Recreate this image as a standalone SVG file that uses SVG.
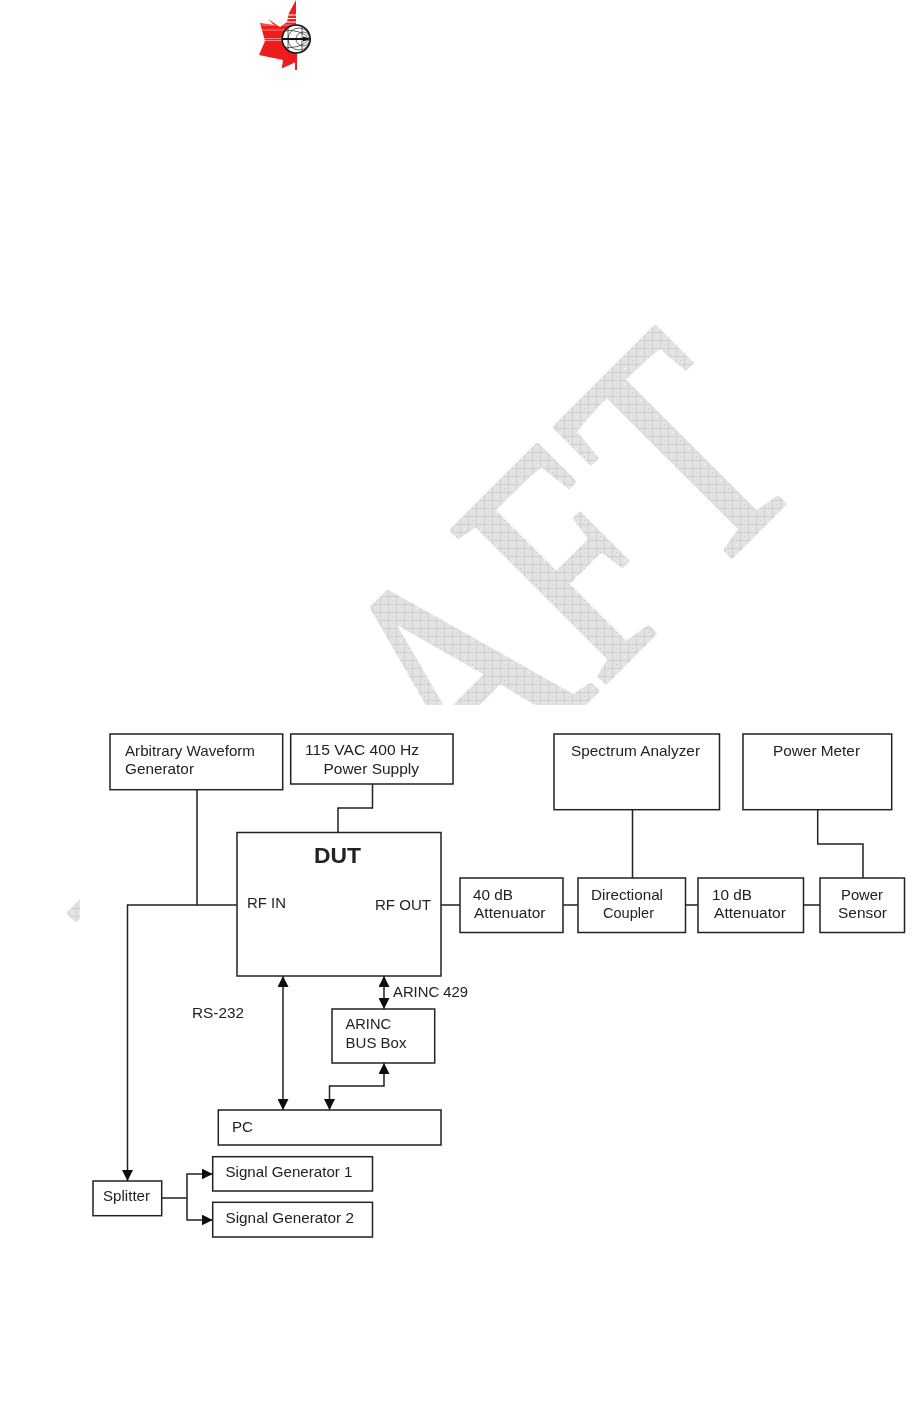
<svg xmlns="http://www.w3.org/2000/svg" width="921" height="1406" viewBox="0 0 921 1406">
<style>
.b{fill:#fff;stroke:#222;stroke-width:1.5}
.c{fill:none;stroke:#222;stroke-width:1.5}
.t{font-family:"Liberation Sans",Arial,sans-serif;font-size:14.6px;fill:#222}
.wm{font-family:"Liberation Serif","Times New Roman",serif;font-size:330px;fill:url(#hatch);stroke:url(#hatch);stroke-width:4.500;stroke-linejoin:round;font-kerning:none}
.ls{fill:none;stroke:#fff;stroke-width:1}
.lp{fill:none;stroke:#f8a0a0;stroke-width:.8}
.sm{fill:none;stroke:#222;stroke-width:.7}
</style>
<defs>
<pattern id="hatch" width="16" height="16" patternUnits="userSpaceOnUse" patternTransform="scale(1.3333,1) rotate(45)">
<rect width="16" height="16" fill="#e3e3e3"/>
<path d="M0 .5H16M0 8.500H16M.5 0V16M8.500 0V16" stroke="#d0d0d0" stroke-width="1" fill="none"/>
<rect x="4" y="4" width="1" height="1" fill="#c4c4c4"/>
<rect x="12" y="12" width="1" height="1" fill="#f4f4f4"/>
</pattern>
<marker id="ah" viewBox="0 0 10 10" refX="10" refY="5" markerWidth="11" markerHeight="11" markerUnits="userSpaceOnUse" orient="auto-start-reverse" preserveAspectRatio="none"><path d="M0 0L10 5L0 10Z" fill="#111"/></marker>
<clipPath id="leafclip"><path d="M296 0L289 13L287 22L280 27L268 19L274 25L260 23L265 41L259 55L283 60L281.700 68.500L296 62Z"/></clipPath>
<filter id="soft" filterUnits="userSpaceOnUse" x="0" y="700" width="921" height="600"><feGaussianBlur stdDeviation=".35"/></filter>
</defs>
<rect width="921" height="1406" fill="#fff"/>
<g id="watermark">
<text class="wm" transform="translate(644,644) rotate(-45) scale(.75,1)" x="-806 -553 -324 -84 114" y="0">DRAFT</text>
<rect x="80" y="705" width="841" height="560" fill="#fff"/>
</g>
<g id="logo">
<path d="M296 0L289 13L287 22L280 27L268 19L274 25L260 23L265 41L259 55L283 60L281.700 68.500L296 62Z" fill="#ee1c1c"/>
<g clip-path="url(#leafclip)">
<path class="ls" d="M285 15H296M285 18.500H296M284 22H296"/>
<path class="lp" d="M259 25H296M259 30H296M262 38.500H285M262 40.500H285"/>
</g>
<rect x="295" y="50" width="2" height="20" fill="#ee1c1c"/>
<circle cx="296.200" cy="39" r="14" fill="#fff" stroke="#111" stroke-width="1.500"/>
<path class="sm" d="M288 39A11 11 0 0 1 310 39A11 11 0 0 1 288 39M296 39A7 7 0 0 1 310 39A7 7 0 0 1 296 39M310 39A14 14 0 0 0 296 25M310 39A14 14 0 0 1 296 53M310 39A28 28 0 0 0 284 31M310 39A28 28 0 0 1 284 47M288 28L288 50M302 26L302 52"/>
<path d="M282 39H307" stroke="#111" stroke-width="2" fill="none"/>
<path d="M303 36.500L311 39L303 41.500Z" fill="#111"/>
</g>
<g filter="url(#soft)">
<g id="connectors">
<path class="c" d="M197 790V905M237 905H127.500V1181"  marker-end="url(#ah)"/>
<path class="c" d="M372.500 784V808H338V832.500"/>
<path class="c" d="M441 905H460M563 905H578M685.500 905H698M803.500 905H820"/>
<path class="c" d="M632.500 810V878M817.700 810V844H863V878"/>
<path class="c" d="M283 976V1110" marker-start="url(#ah)" marker-end="url(#ah)"/>
<path class="c" d="M384 976V1009" marker-start="url(#ah)" marker-end="url(#ah)"/>
<path class="c" d="M384 1063V1086H329.500V1110" marker-start="url(#ah)" marker-end="url(#ah)"/>
<path class="c" d="M162 1198H187"/>
<path class="c" d="M187 1198V1174H212.700" marker-end="url(#ah)"/>
<path class="c" d="M187 1198V1220H212.700" marker-end="url(#ah)"/>
</g>
<g id="awg"><rect class="b" x="110" y="734" width="172.700" height="55.700"/><text class="t" x="125" y="756" textLength="130" lengthAdjust="spacingAndGlyphs">Arbitrary Waveform</text><text class="t" x="125" y="774" textLength="69" lengthAdjust="spacingAndGlyphs">Generator</text></g>
<g id="psu"><rect class="b" x="290.700" y="734" width="162.300" height="50"/><text class="t" x="305" y="755" textLength="114" lengthAdjust="spacingAndGlyphs">115 VAC 400 Hz</text><text class="t" x="323.500" y="774" textLength="95.500" lengthAdjust="spacingAndGlyphs">Power Supply</text></g>
<g id="dut"><rect class="b" x="237" y="832.500" width="204" height="143.500"/><text class="t" x="314" y="863" textLength="47" lengthAdjust="spacingAndGlyphs" style="font-size:22px;font-weight:bold">DUT</text><text class="t" x="247" y="908" textLength="39" lengthAdjust="spacingAndGlyphs">RF IN</text><text class="t" x="375" y="910" textLength="56" lengthAdjust="spacingAndGlyphs">RF OUT</text></g>
<g id="spectrum"><rect class="b" x="554" y="734" width="165.500" height="75.700"/><text class="t" x="571" y="756" textLength="129" lengthAdjust="spacingAndGlyphs">Spectrum Analyzer</text></g>
<g id="meter"><rect class="b" x="743" y="734" width="148.700" height="75.700"/><text class="t" x="773" y="756" textLength="87" lengthAdjust="spacingAndGlyphs">Power Meter</text></g>
<g id="att40"><rect class="b" x="460" y="878" width="103" height="54.500"/><text class="t" x="473" y="900" textLength="40" lengthAdjust="spacingAndGlyphs">40 dB</text><text class="t" x="474" y="918" textLength="71.500" lengthAdjust="spacingAndGlyphs">Attenuator</text></g>
<g id="coupler"><rect class="b" x="578" y="878" width="107.500" height="54.500"/><text class="t" x="591" y="900" textLength="72" lengthAdjust="spacingAndGlyphs">Directional</text><text class="t" x="603" y="918" textLength="51" lengthAdjust="spacingAndGlyphs">Coupler</text></g>
<g id="att10"><rect class="b" x="698" y="878" width="105.500" height="54.500"/><text class="t" x="712" y="900" textLength="40" lengthAdjust="spacingAndGlyphs">10 dB</text><text class="t" x="714" y="918" textLength="72" lengthAdjust="spacingAndGlyphs">Attenuator</text></g>
<g id="sensor"><rect class="b" x="820" y="878" width="84.500" height="54.500"/><text class="t" x="841" y="900" textLength="42" lengthAdjust="spacingAndGlyphs">Power</text><text class="t" x="838" y="918" textLength="49" lengthAdjust="spacingAndGlyphs">Sensor</text></g>
<g id="rs232"><text class="t" x="192" y="1018" textLength="52" lengthAdjust="spacingAndGlyphs">RS-232</text></g>
<g id="arinc429"><text class="t" x="393" y="997" textLength="75" lengthAdjust="spacingAndGlyphs">ARINC 429</text></g>
<g id="arincbox"><rect class="b" x="332" y="1009" width="102.700" height="54"/><text class="t" x="345.500" y="1029" textLength="45.500" lengthAdjust="spacingAndGlyphs">ARINC</text><text class="t" x="345.500" y="1048" textLength="61" lengthAdjust="spacingAndGlyphs">BUS Box</text></g>
<g id="pc"><rect class="b" x="218.300" y="1110" width="222.700" height="35"/><text class="t" x="232" y="1132" textLength="21" lengthAdjust="spacingAndGlyphs">PC</text></g>
<g id="splitter"><rect class="b" x="93" y="1181" width="68.700" height="34.700"/><text class="t" x="103" y="1201" textLength="47" lengthAdjust="spacingAndGlyphs">Splitter</text></g>
<g id="sg1"><rect class="b" x="212.700" y="1156.700" width="159.800" height="34.300"/><text class="t" x="225.500" y="1177" textLength="127" lengthAdjust="spacingAndGlyphs">Signal Generator 1</text></g>
<g id="sg2"><rect class="b" x="212.700" y="1202.300" width="159.800" height="34.700"/><text class="t" x="225.500" y="1223" textLength="128.500" lengthAdjust="spacingAndGlyphs">Signal Generator 2</text></g>
</g>
</svg>
